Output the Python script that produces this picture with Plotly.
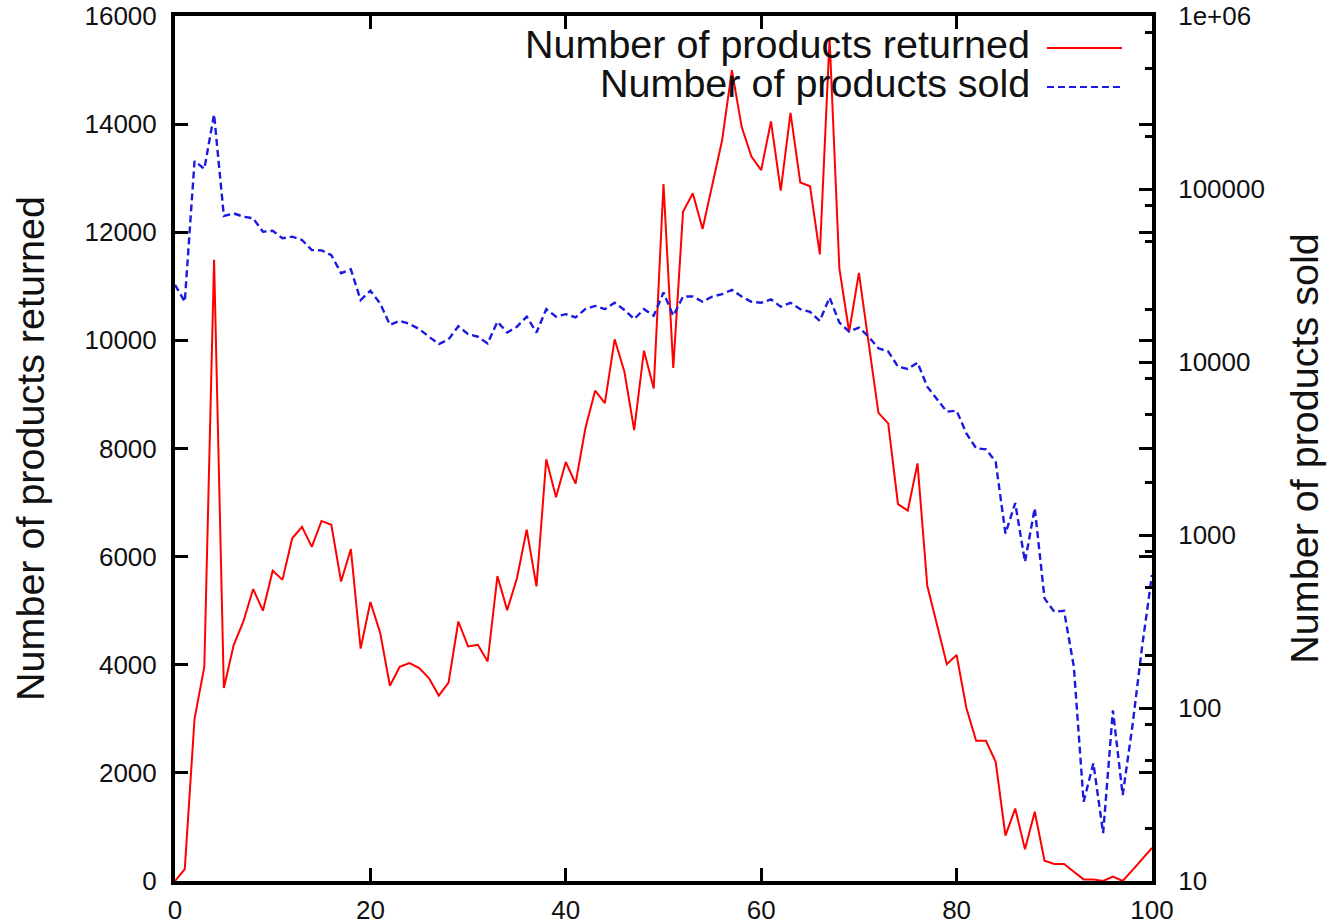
import plotly.graph_objects as go

x_vals = list(range(0, 101))

returned = [0, 220, 3000, 3960, 11490, 3570, 4360, 4800, 5400, 5000,
            5740, 5570, 6340, 6550, 6180, 6660, 6590, 5540, 6140, 4300,
            5160, 4590, 3610, 3960, 4030, 3940, 3750, 3430, 3670, 4800,
            4340, 4370, 4060, 5640, 5010, 5600, 6500, 5450, 7800, 7100,
            7750, 7350, 8370, 9070, 8840, 10020, 9420, 8340, 9810, 9110,
            12890, 9490, 12380, 12720, 12060, 12900, 13700, 15000, 13950, 13400,
            13150, 14050, 12770, 14210, 12920, 12850, 11590, 15590, 11330, 10160,
            11250, 9950, 8660, 8465, 6970, 6850, 7725, 5460, 4735, 4010,
            4180, 3200, 2595, 2595, 2205, 840, 1340, 585, 1280, 375,
            315, 315, 170, 30, 30, 0, 80, 0, 200, 400, 610]

sold = [27900, 22300, 145000, 130700, 270000, 69800, 72300, 69200, 67700, 56600,
        57400, 51900, 53000, 50700, 44400, 44200, 41500, 32600, 34300, 22800,
        25800, 21800, 16400, 17300, 16600, 15500, 14000, 12700, 13500, 16100,
        14500, 14000, 12800, 17100, 14800, 16000, 18300, 14800, 20200, 18300,
        18900, 18100, 20200, 21100, 20200, 22000, 20000, 17700, 20200, 18500,
        25200, 18500, 23900, 23900, 22300, 23900, 24700, 26100, 23900, 22300,
        22000, 23000, 20900, 22000, 20200, 19500, 17300, 23600, 16900, 15000,
        15800, 14000, 12000, 11500, 9400, 9120, 9920, 7200, 6090, 5160,
        5230, 3870, 3170, 3130, 2650, 1020, 1530, 700, 1430, 430,
        360, 365, 173, 28.7, 47.9, 18.9, 97, 31.4, 79, 229, 588]

x_ticks = [0, 20, 40, 60, 80, 100]
y_ticks = [0, 2000, 4000, 6000, 8000, 10000, 12000, 14000, 16000]
y_ticktext = ["0", "2000", "4000", "6000", "8000", "10000", "12000", "14000", "16000"]
y2_ticks = [10, 100, 1000, 10000, 100000, 1000000]
y2_ticktext = ["10", "100", "1000", "10000", "100000", "1e+06"]
y2_minor = [m * 10 ** e for e in range(1, 6) for m in (2, 5, 8)]

name_returned = "Number of products returned"
name_sold = "Number of products sold"

RED = "#ff0000"
BLUE = "#1a1ae0"
DASH = "7px,4px"
FONT = "Liberation Sans, Arial, sans-serif"
TITLE_SIZE = 39.5

fig = go.Figure()
fig.add_trace(go.Scatter(x=x_vals, y=returned, mode="lines", name=name_returned,
                         line=dict(color=RED, width=2), showlegend=False))
fig.add_trace(go.Scatter(x=x_vals, y=sold, mode="lines", name=name_sold, yaxis="y2",
                         line=dict(color=BLUE, width=2.4, dash=DASH), showlegend=False))

axis_common = dict(showgrid=False, zeroline=False, showline=True, linecolor="black",
                   linewidth=4, ticks="inside", ticklen=13, tickwidth=3, tickcolor="black",
                   automargin=False,
                   tickfont=dict(family=FONT, size=26, color="#111"))

fig.update_layout(
    width=1327, height=924,
    margin=dict(l=175, r=175, t=16, b=43, autoexpand=False),
    paper_bgcolor="white", plot_bgcolor="white",
    font=dict(family=FONT, color="#111"),
    xaxis=dict(range=[0, 100], tickmode="array", tickvals=x_ticks, mirror="ticks",
               ticklabelstandoff=3, **axis_common),
    yaxis=dict(range=[0, 16000], tickmode="array", tickvals=y_ticks, ticktext=y_ticktext,
               mirror="ticks", ticklabelstandoff=9,
               title=dict(text=name_returned, font=dict(family=FONT, size=TITLE_SIZE, color="#111"),
                          standoff=29),
               **axis_common),
    yaxis2=dict(type="log", range=[1, 6], overlaying="y", side="right",
                tickmode="array", tickvals=y2_ticks, ticktext=y2_ticktext,
                ticklabelstandoff=17,
                minor=dict(tickmode="array", tickvals=y2_minor, ticks="inside",
                           ticklen=7, tickwidth=2.5, tickcolor="black", showgrid=False),
                title=dict(text=name_sold, font=dict(family=FONT, size=TITLE_SIZE, color="#111"),
                           standoff=27),
                **axis_common),
)

# gnuplot-style key: right-aligned text with line sample to its right
key_items = [(name_returned, RED, "solid", 0.968), (name_sold, BLUE, DASH, 0.923)]
for label, col, dash, yy in key_items:
    fig.add_annotation(x=0.8775, y=yy, xref="paper", yref="paper", text=label,
                       showarrow=False, xanchor="right", yanchor="middle",
                       font=dict(family=FONT, size=TITLE_SIZE, color="#111"))
    fig.add_shape(type="line", xref="paper", yref="paper", x0=0.8925, x1=0.9693,
                  y0=yy - 0.005, y1=yy - 0.005,
                  line=dict(color=col, width=2, dash=dash))

fig.write_html("out.html")
